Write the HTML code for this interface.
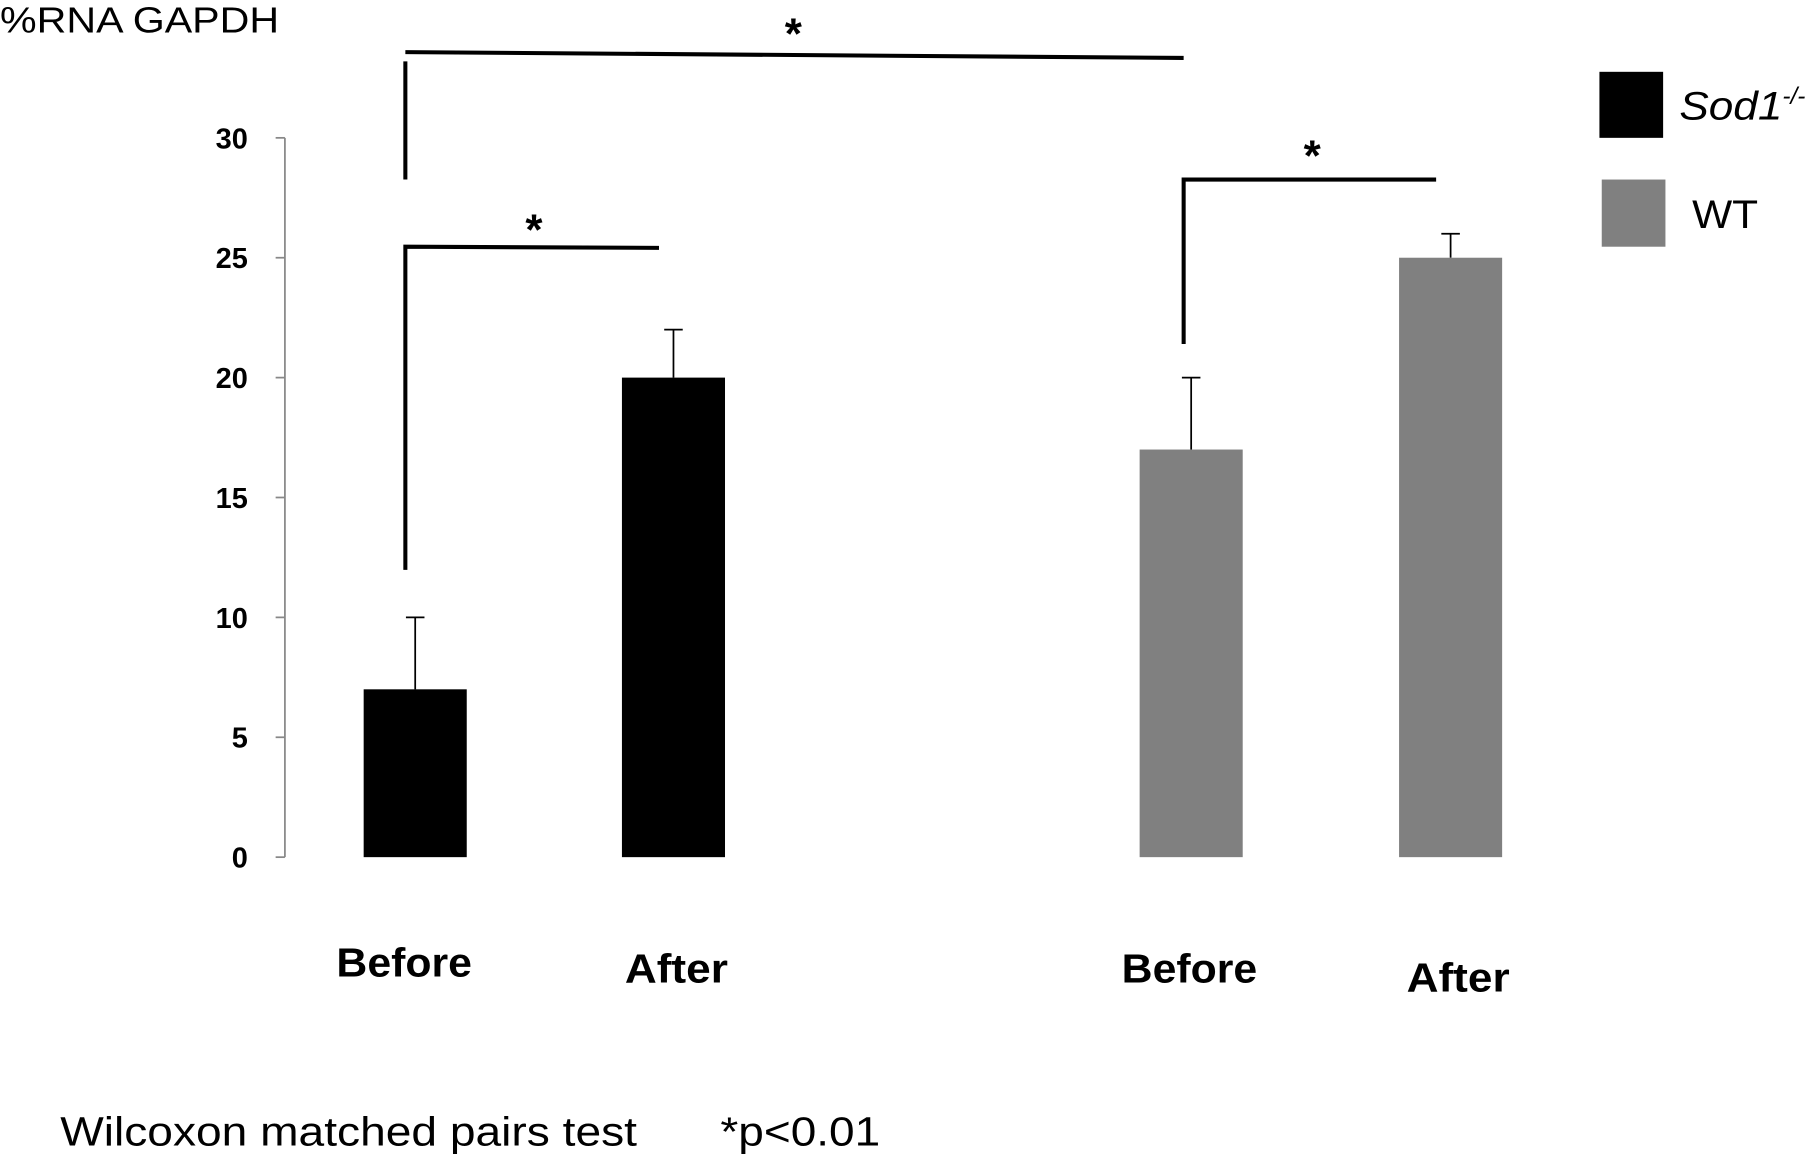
<!DOCTYPE html>
<html><head><meta charset="utf-8"><style>
html,body{margin:0;padding:0;background:#fff;}
svg{display:block;font-family:"Liberation Sans",sans-serif;}
</style></head><body>
<svg id="chart" width="1816" height="1156" viewBox="0 0 1568 998" preserveAspectRatio="none" xmlns="http://www.w3.org/2000/svg">
<text x="0" y="28" font-size="31" textLength="241" lengthAdjust="spacingAndGlyphs">%RNA GAPDH</text>
<g id="axis"></g>
<g id="bars"></g>
<g id="labels"></g>
<g stroke="#000" stroke-width="3.5" fill="none">
<path d="M350,155 L350,53 M350,45 L1022,50"/>
<path d="M350,492 L350,213 L569,214"/>
<path d="M1022,297 L1022,155 L1240,155"/>
</g>
<text x="685" y="42" font-size="38" text-anchor="middle" font-weight="bold">*</text>
<text x="461" y="211" font-size="38" text-anchor="middle" font-weight="bold">*</text>
<text x="1133" y="147" font-size="38" text-anchor="middle" font-weight="bold">*</text>
<g>
<rect x="1381" y="62" width="55" height="57" fill="#000"/>
<text x="1450" y="103" font-size="34" font-style="italic"><tspan textLength="89" lengthAdjust="spacingAndGlyphs">Sod1</tspan><tspan font-size="21" dy="-13">-/-</tspan></text>
<rect x="1383" y="155" width="55" height="58" fill="#808080"/>
<text x="1461" y="197" font-size="34" textLength="57" lengthAdjust="spacingAndGlyphs">WT</text>
</g>
<text x="52" y="989" font-size="35" textLength="498" lengthAdjust="spacingAndGlyphs">Wilcoxon matched pairs test</text>
<text x="622" y="989" font-size="35" textLength="138" lengthAdjust="spacingAndGlyphs">*p&lt;0.01</text>
</svg>
<script>
const categories = ["Before","After","Before","After"];
const values = [7,20,17,25];
const errors = [3,2,3,1];
const groups = ["sod1","sod1","wt","wt"];
const yTicks = [0,5,10,15,20,25,30];
const NS="http://www.w3.org/2000/svg";
const barX=[314,537,984,1208], barW=89;
const labelPos=[[349,843],[584,848],[1027,848],[1259,856]];
const colors={sod1:"#000",wt:"#808080"};
function y(v){return 740-(v/30)*621;}
function el(t,a,p){const e=document.createElementNS(NS,t);for(const k in a)e.setAttribute(k,a[k]);p.appendChild(e);return e;}
const ax=document.getElementById('axis');
const axl=el('line',{x1:246,y1:y(30),x2:246,y2:y(0),stroke:'#888','stroke-width':1.5},ax);


yTicks.forEach(t=>{
 const tk=el('line',{x1:238,x2:246,y1:y(t),y2:y(t),stroke:'#888','stroke-width':1.5},ax);
 
 
 const tx=el('text',{x:214,y:y(t)+9,'font-size':25,'font-weight':'bold','text-anchor':'end'},ax);
 
 
 tx.textContent=t;
});
const bg=document.getElementById('bars'), lg=document.getElementById('labels');
values.forEach((v,i)=>{
 const x=barX[i], c=x+barW/2;
 const e1=el('line',{x1:c,x2:c,y1:y(v),y2:y(v+errors[i]),stroke:'#000','stroke-width':1.5},bg);
 
 
 const e2=el('line',{x1:c-8,x2:c+8,y1:y(v+errors[i]),y2:y(v+errors[i]),stroke:'#000','stroke-width':1.5},bg);
 
 
 const r=el('rect',{x:x,y:y(v),width:barW,height:y(0)-y(v),fill:colors[groups[i]]},bg);
 
 
 const w=categories[i]==="Before"?117:89;
 const t=el('text',{x:labelPos[i][0],y:labelPos[i][1],'font-size':35,'font-weight':'bold','text-anchor':'middle',textLength:w,lengthAdjust:'spacingAndGlyphs'},lg);
 
 
 t.textContent=categories[i];
});
</script>
</body></html>
